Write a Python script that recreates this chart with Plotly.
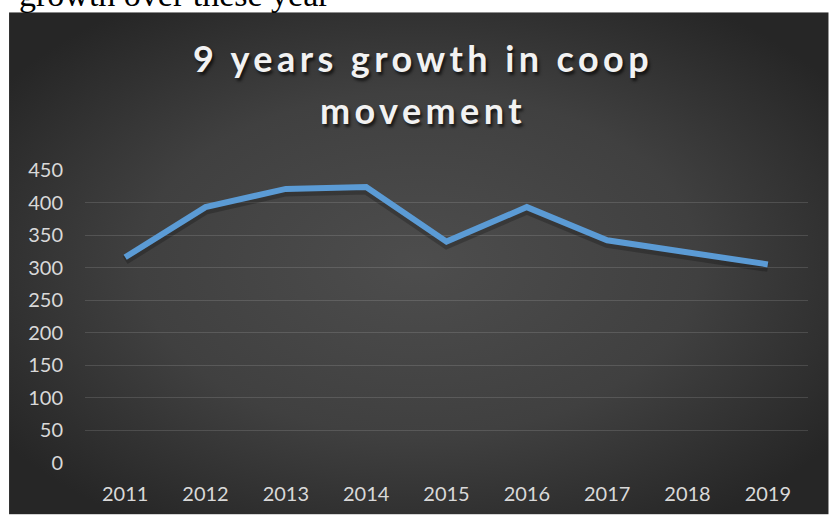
import base64
import plotly.graph_objects as go

# Chart data
years = ["2011", "2012", "2013", "2014", "2015", "2016", "2017", "2018", "2019"]
members = [316, 393, 421, 424, 340, 393, 342, 324, 305]
y_ticks = [0, 50, 100, 150, 200, 250, 300, 350, 400, 450]

title_line1 = "9 years growth in coop"
title_line2 = "movement"
doc_text = "growth over these year"

W, H = 829, 516
L, R, T, B = 85, 20.7, 170, 52.5
PW, PH = W - L - R, H - T - B


def px_x(X):
    return (X - L) / PW


def px_y(Y):
    return (H - B - Y) / PH


# Dark radial-gradient chart background
svg = """<svg xmlns='http://www.w3.org/2000/svg' width='820' height='503' preserveAspectRatio='none'>
<defs><radialGradient id='g' cx='0.5' cy='0.5' r='0.62' fx='0.5' fy='0.5'>
<stop offset='0' stop-color='#4d4d4d'/><stop offset='0.55' stop-color='#404040'/>
<stop offset='1' stop-color='#262626'/></radialGradient></defs>
<rect width='820' height='503' fill='url(#g)'/></svg>"""
bg_src = "data:image/svg+xml;base64," + base64.b64encode(svg.encode()).decode()

shadow_shift = 3 / (PH / 450)  # about 3px, in data units

fig = go.Figure()
fig.add_trace(go.Scatter(
    x=years, y=members, mode="lines", yaxis="y",
    line=dict(color="rgba(0,0,0,0.22)", width=9),
    hoverinfo="skip", showlegend=False,
))
fig.add_trace(go.Scatter(
    x=years, y=members, mode="lines", yaxis="y2",
    line=dict(color="#5B9BD5", width=6),
    showlegend=False,
))

tick_font = dict(family="Lato", size=20, color="#d9d9d9")

fig.update_layout(
    width=W, height=H,
    margin=dict(l=L, r=R, t=T, b=B, pad=0),
    paper_bgcolor="white",
    plot_bgcolor="rgba(0,0,0,0)",
    xaxis=dict(
        type="category", range=[-0.5, 8.5], showgrid=False, zeroline=False,
        showline=False, ticks="", ticklabelstandoff=17, tickfont=tick_font,
    ),
    yaxis=dict(
        range=[shadow_shift, 450 + shadow_shift], visible=False,
        showgrid=False, zeroline=False,
    ),
    yaxis2=dict(
        overlaying="y", side="left", range=[0, 450],
        tickmode="array", tickvals=y_ticks,
        showgrid=True, gridcolor="rgba(255,255,255,0.13)", gridwidth=1.2,
        zeroline=False, showline=False, ticks="", ticklabelstandoff=21,
        tickfont=tick_font,
    ),
    images=[dict(
        source=bg_src, xref="paper", yref="paper",
        x=px_x(9), y=px_y(12), sizex=820 / PW, sizey=503 / PH,
        xanchor="left", yanchor="top", sizing="stretch", layer="below",
    )],
    showlegend=False,
)

title_font = dict(family="Lato", size=36, color="#f2f2f2", weight="bold",
                  shadow="2px 3px 3px rgba(0,0,0,0.65)")
for text, yc in [(title_line1, 58), (title_line2, 110)]:
    fig.add_annotation(
        text=f'<span style="letter-spacing:4.4px">{text}</span>',
        xref="paper", yref="paper", x=px_x(423), y=px_y(yc),
        xanchor="center", yanchor="middle", showarrow=False, font=title_font,
    )

fig.add_annotation(
    text=doc_text, xref="paper", yref="paper",
    x=px_x(17), y=px_y(14.3), xanchor="left", yanchor="bottom",
    showarrow=False,
    font=dict(family="Liberation Serif", size=34, color="black"),
)

fig.write_html("out.html")
